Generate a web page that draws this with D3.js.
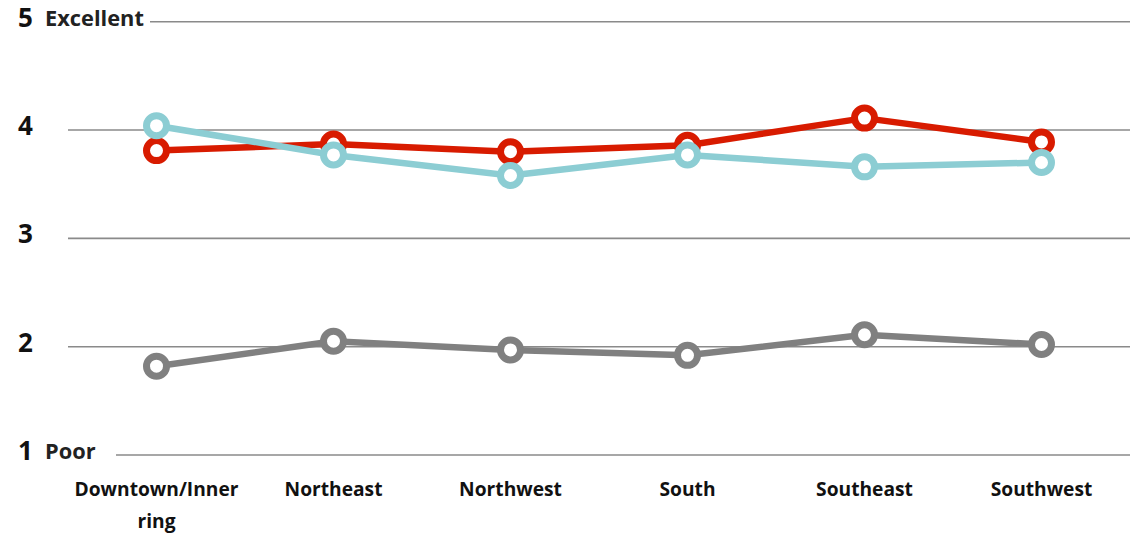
<!DOCTYPE html>
<html>
<head>
<meta charset="utf-8">
<script src="https://cdn.jsdelivr.net/npm/d3@7"></script>
<style>
  html, body { margin: 0; padding: 0; background: #ffffff; }
  svg { display: block; font-family: "Open Sans", "Noto Sans", sans-serif; }
</style>
</head>
<body>
<svg id="chart" width="1136" height="539"></svg>
<script>
// Ratings by area, scale 1 (Poor) to 5 (Excellent)
const categories = ["Downtown/Inner ring", "Northeast", "Northwest", "South", "Southeast", "Southwest"];
const seriesGray = [1.82, 2.05, 1.97, 1.92, 2.11, 2.02];
const seriesRed  = [3.81, 3.87, 3.80, 3.86, 4.11, 3.89];
const seriesTeal = [4.04, 3.77, 3.58, 3.77, 3.66, 3.70];
const yTicks = [1, 2, 3, 4, 5];
const yTickNames = { 1: "Poor", 5: "Excellent" };

const series = [
  { name: "gray", values: seriesGray, color: "#808080" },
  { name: "red",  values: seriesRed,  color: "#d81b00" },
  { name: "teal", values: seriesTeal, color: "#8ccdd3" }
];

const svg = d3.select("#chart");
const plotLeft = 68, plotRight = 1130, plotTop = 21.7, plotBottom = 455;

const x = d3.scaleBand().domain(categories).range([plotLeft, plotRight]).padding(0);
const y = d3.scaleLinear().domain([1, 5]).range([plotBottom, plotTop]);

// Gridlines; rows with a name start after the name
const gridStart = { 1: 116, 5: 150 };
svg.append("g").selectAll("line")
  .data(yTicks).join("line")
  .attr("x1", d => gridStart[d] || plotLeft)
  .attr("x2", plotRight)
  .attr("y1", d => y(d)).attr("y2", d => y(d))
  .attr("stroke", "#8a8a8a").attr("stroke-width", 1.6);

// Y tick numbers and names
const yLab = svg.append("g");
yLab.selectAll("text.num")
  .data(yTicks).join("text")
  .attr("class", "num")
  .attr("x", 18).attr("y", d => y(d) + 5)
  .attr("font-size", 26).attr("font-weight", 700).attr("fill", "#111")
  .text(d => d);
yLab.selectAll("text.name")
  .data(yTicks.filter(d => yTickNames[d])).join("text")
  .attr("class", "name")
  .attr("x", 45).attr("y", d => y(d) + 4)
  .attr("font-size", 21.8).attr("font-weight", 700).attr("fill", "#222")
  .text(d => yTickNames[d]);

// X axis labels, wrapped to the band width
const xLab = svg.append("g");
categories.forEach(c => {
  const cx = x(c) + x.bandwidth() / 2;
  const lines = c === "Downtown/Inner ring" ? ["Downtown/Inner", "ring"] : [c];
  const t = xLab.append("text")
    .attr("x", cx).attr("y", 496)
    .attr("text-anchor", "middle")
    .attr("font-size", 19.2).attr("font-weight", 700).attr("fill", "#111");
  lines.forEach((l, i) => {
    t.append("tspan").attr("x", cx).attr("dy", i === 0 ? 0 : 32).text(l);
  });
});

// Lines with hollow markers
const line = d3.line()
  .x((d, i) => x(categories[i]) + x.bandwidth() / 2)
  .y(d => y(d));

series.forEach(s => {
  const g = svg.append("g");
  g.append("path")
    .attr("d", line(s.values))
    .attr("fill", "none")
    .attr("stroke", s.color)
    .attr("stroke-width", 6.5)
    .attr("stroke-linejoin", "round");
  g.selectAll("circle")
    .data(s.values).join("circle")
    .attr("cx", (d, i) => x(categories[i]) + x.bandwidth() / 2)
    .attr("cy", d => y(d))
    .attr("r", 10)
    .attr("fill", "#fff")
    .attr("stroke", s.color)
    .attr("stroke-width", 7);
});
</script>
</body>
</html>
